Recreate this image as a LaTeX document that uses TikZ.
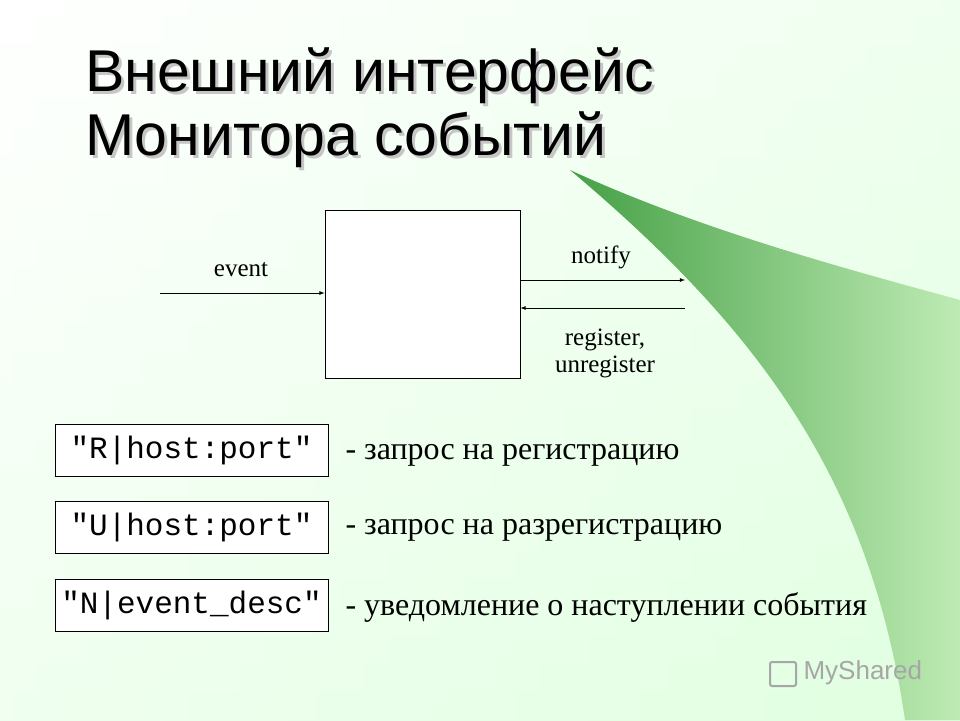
\documentclass[tikz,border=0pt]{standalone}
\usepackage{fontspec}
\setmainfont{Liberation Serif}
\newfontfamily\titlefont{Liberation Sans}
\setmonofont{Liberation Mono}
\definecolor{gdark}{RGB}{70,160,70}
\definecolor{glight}{RGB}{190,235,180}
\begin{document}
\begin{tikzpicture}[x=1pt,y=-1pt,
  codebox/.style={draw,line width=1pt,minimum width=273pt,minimum height=52pt,font=\ttfamily\fontsize{31}{33}\selectfont,inner sep=0pt},
  desc/.style={anchor=west,font=\fontsize{32}{34}\selectfont},
  lbl/.style={font=\fontsize{25}{27}\selectfont},
  ttl/.style={anchor=base west,font=\titlefont\fontsize{59}{62}\selectfont,inner sep=0},
  arr/.style={-latex,line width=0.8pt}]
\useasboundingbox (0,0) rectangle (960,720);
\shade[left color=white,right color=green!15!white] (0,0) rectangle (960,720);
\shade[top color=white,bottom color=green!10!white,opacity=0.6] (0,0) rectangle (960,720);
\shade[left color=gdark,right color=glight] (570,170) .. controls (700,230) and (850,270) .. (960,300) -- (960,720) -- (905,720) .. controls (870,480) and (760,330) .. cycle;
\node[ttl,text=gray!45] at (88,94) {Внешний интерфейс};
\node[ttl,text=gray!45] at (88,158) {Монитора событий};
\node (t1) [ttl] at (85,91) {Внешний интерфейс};
\node (t2) [ttl] at (85,155) {Монитора событий};
\node (box) [draw,line width=0.8pt,fill=white,minimum width=195pt,minimum height=168pt] at (422.5,294) {};
\coordinate (ein) at (160,293);
\coordinate (nout) at (685,280);
\coordinate (rin) at (685,308);
\draw[arr] (ein) -- (ein-|box.west);
\draw[arr] (nout-|box.east) -- (nout);
\draw[arr] (rin) -- (rin-|box.east);
\node (le) [lbl] at (241,270) {event};
\node (ln) [lbl] at (601,257) {notify};
\node (lr) [lbl,align=center] at (605,353) {register,\\unregister};
\node (c1) [codebox,fill=white] at (191.5,450) {"R|host:port"};
\node (c2) [codebox,fill=white] at (191.5,527) {"U|host:port"};
\node (c3) [codebox,fill=white] at (191.5,605) {"N|event\_desc"};
\node (d1) [desc] at (342,455) {- запрос на регистрацию};
\node (d2) [desc] at (342,530) {- запрос на разрегистрацию};
\node (d3) [desc] at (342,607) {- уведомление о наступлении события};
\node (logo) [anchor=west,font=\titlefont\fontsize{26}{28}\selectfont,text=gray!70] at (800,673) {MyShared};
\draw[gray!70,line width=2pt,rounded corners=2pt] (770,662) rectangle (796,686);
\end{tikzpicture}
\end{document}
